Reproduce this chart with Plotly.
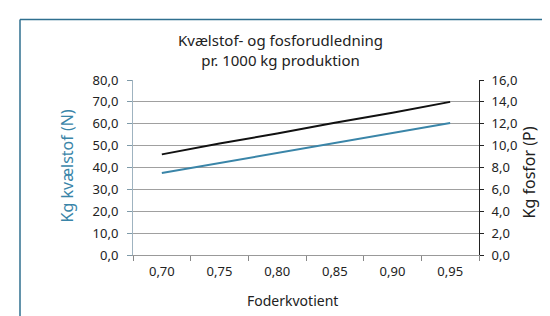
import plotly.graph_objects as go

# Data
categories = ["0,70", "0,75", "0,80", "0,85", "0,90", "0,95"]
nitrogen_kg = [37.5, 42.0, 46.5, 51.0, 55.5, 60.3]   # left axis, blue
phosphorus_kg = [9.2, 10.2, 11.1, 12.1, 13.0, 14.0]  # right axis, black

title_text = "Kvælstof- og fosforudledning<br>pr. 1000 kg produktion"
x_title = "Foderkvotient"
y_left_title = "Kg kvælstof (N)"
y_right_title = "Kg fosfor (P)"

W, H = 550, 316
L, R, T, B = 125, 471, 71.5, 246.7  # plot area in px

def px(x):
    return (x - L) / (R - L)

def py(y):
    return (B - y) / (B - T)

FONT = "Noto Sans, DejaVu Sans, sans-serif"
BLUE = "#3a85a8"

fig = go.Figure()
fig.add_trace(go.Scatter(x=categories, y=nitrogen_kg, mode="lines",
                         line=dict(color=BLUE, width=2), name="N", yaxis="y"))
fig.add_trace(go.Scatter(x=categories, y=phosphorus_kg, mode="lines",
                         line=dict(color="#111111", width=2), name="P", yaxis="y2"))

fig.update_layout(
    width=W, height=H,
    margin=dict(l=L, r=W - R, t=T, b=H - B, pad=0),
    paper_bgcolor="white", plot_bgcolor="white",
    showlegend=False,
    separators=",.",
    font=dict(family=FONT, size=13, color="#222"),
    xaxis=dict(type="category", range=[-0.5, 5.5], tickson="boundaries",
               ticks="outside", ticklen=5, tickcolor="#888",
               showgrid=False, showline=True, linecolor="#999", linewidth=1,
               tickfont=dict(size=13, color="#222"), zeroline=False,
               ticklabelstandoff=4),
    yaxis=dict(range=[0, 80], dtick=10, tickformat=".1f",
               ticks="outside", ticklen=5, tickcolor="#7f9aa8",
               showline=True, linecolor="#9fb3c0", linewidth=1,
               showgrid=True, gridcolor="#a0a0a0", gridwidth=1,
               zeroline=False, tickfont=dict(size=13, color="#222"),
               ticklabelstandoff=6),
    yaxis2=dict(range=[0, 16], dtick=2, tickformat=".1f", overlaying="y", side="right",
                ticks="outside", ticklen=4, tickcolor="#222",
                showline=True, linecolor="#222", linewidth=1,
                showgrid=False, zeroline=False, tickfont=dict(size=13, color="#222"),
                ticklabelstandoff=5),
)

# chart frame (left, top, bottom edges visible)
frame = dict(color="#2f6f8f", width=1.5)
fig.add_shape(type="line", xref="paper", yref="paper",
              x0=px(12), x1=px(12), y0=py(316), y1=py(11), line=frame, layer="above")
fig.add_shape(type="line", xref="paper", yref="paper",
              x0=px(12), x1=px(551), y0=py(11), y1=py(11), line=frame, layer="above")
fig.add_shape(type="line", xref="paper", yref="paper",
              x0=px(12), x1=px(300), y0=py(315), y1=py(315), line=frame, layer="above")

fig.add_annotation(text=title_text, xref="paper", yref="paper", x=px(272), y=py(41),
                   xanchor="center", yanchor="middle", showarrow=False,
                   font=dict(family=FONT, size=15, color="#222"))
fig.add_annotation(text=x_title, xref="paper", yref="paper", x=px(284), y=py(292),
                   xanchor="center", yanchor="middle", showarrow=False,
                   font=dict(family=FONT, size=14, color="#222"))
fig.add_annotation(text=y_left_title, xref="paper", yref="paper", x=px(59), y=py(158),
                   xanchor="center", yanchor="middle", showarrow=False, textangle=-90,
                   font=dict(family=FONT, size=16, color=BLUE))
fig.add_annotation(text=y_right_title, xref="paper", yref="paper", x=px(521), y=py(164),
                   xanchor="center", yanchor="middle", showarrow=False, textangle=-90,
                   font=dict(family=FONT, size=16, color="#222"))

fig.write_html("out.html")
